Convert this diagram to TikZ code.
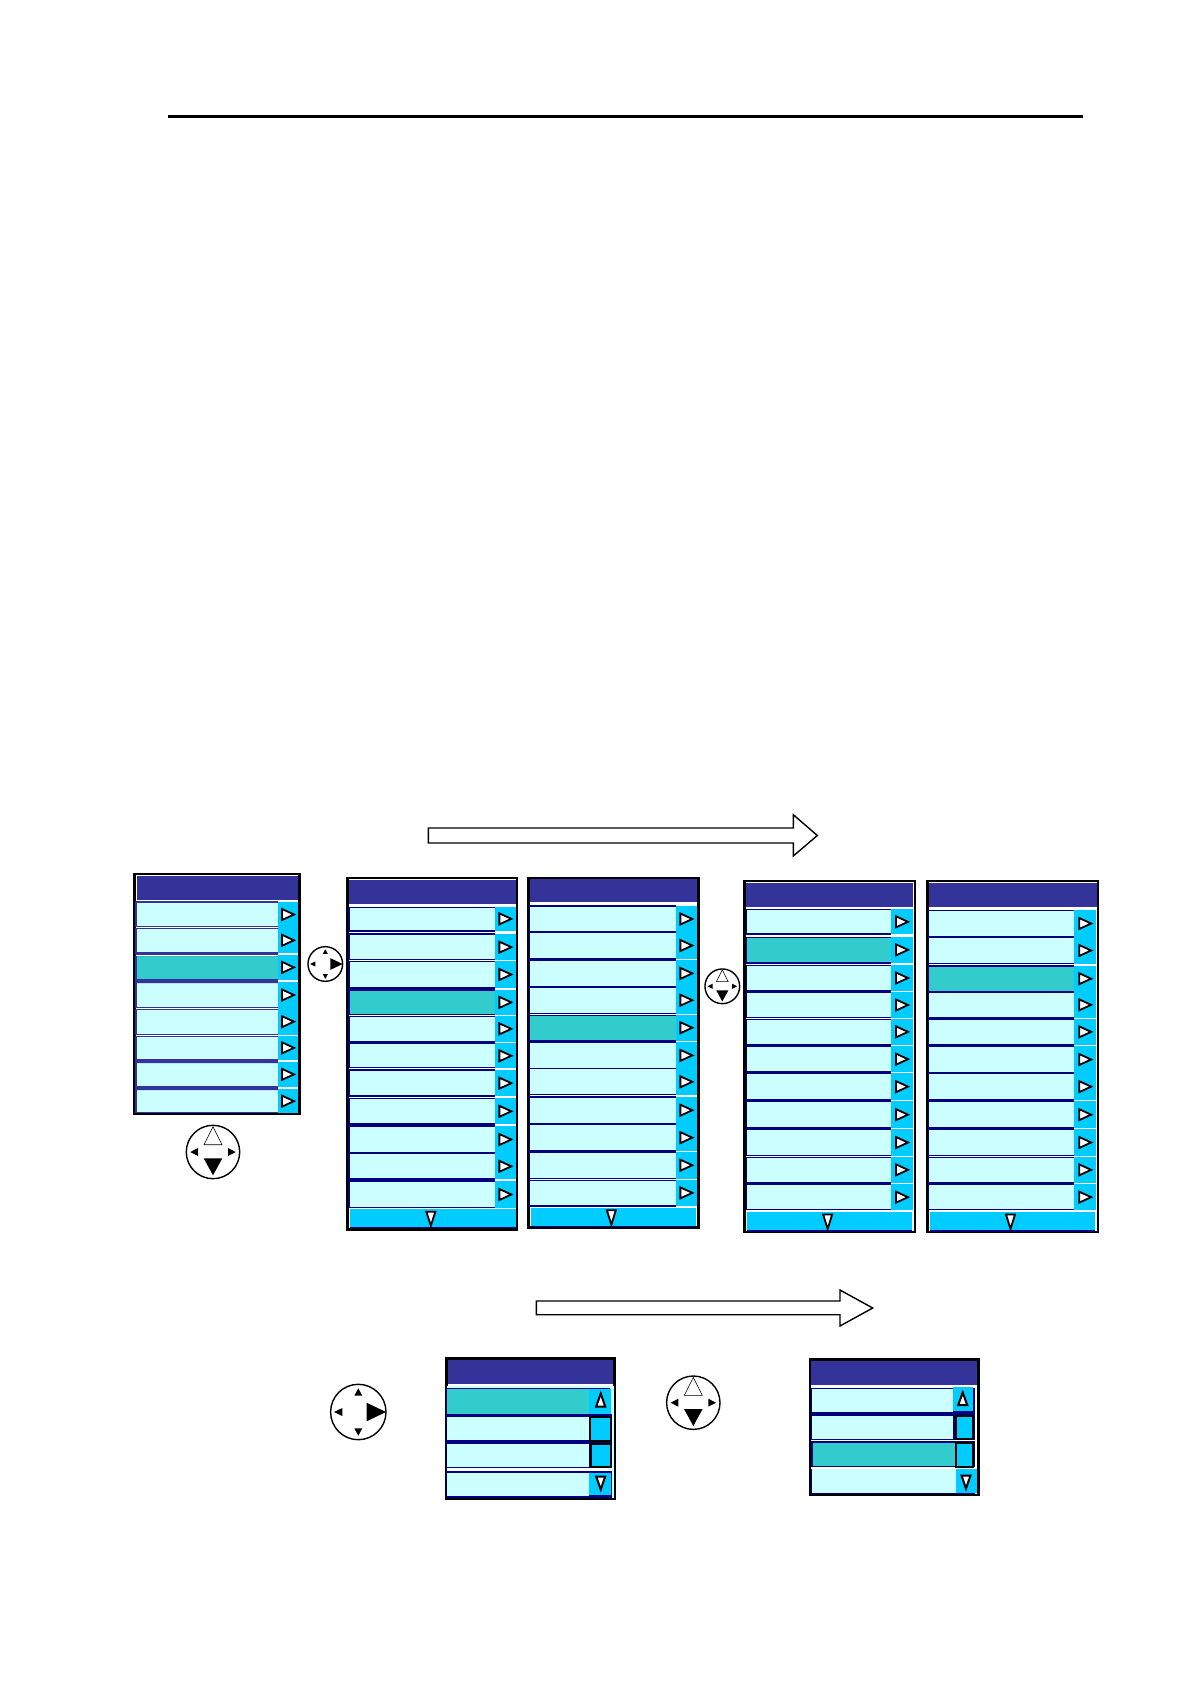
\documentclass[tikz,border=0pt]{standalone}
\definecolor{titlec}{HTML}{333399}
\definecolor{navyc}{HTML}{000080}
\definecolor{rowc}{HTML}{CCFFFF}
\definecolor{selc}{HTML}{33CCCC}
\definecolor{btnc}{HTML}{00CCFF}
\newcommand{\ux}{0.5pt}
\tikzset{
  panelbox/.style={draw=black,fill=white,line width=2.4*\ux},
  titlebox/.style={fill=titlec,draw=none},
  blockarrow/.style={draw=black,fill=white,line width=1.4*\ux,line join=miter},
  tri/.style={draw=black,fill=white,line width=1.8*\ux,line join=miter},
  ring/.style={draw=black,fill=white,line width=1.4*\ux},
  hollow/.style={draw=black,fill=white,line width=0.6*\ux},
  solid tri/.style={fill=black,draw=none},
  barfill/.style={fill=btnc,draw=none}
}
% \panelrows{x0}{xb}{x1}{left width}{line colour}{list}
\newcommand{\panelrows}[6]{%
  \foreach \ta/\bo/\tw/\bw/\fc in {#6}{%
    \pgfmathsetmacro{\ymid}{(\ta+\bo)/2}%
    \pgfmathsetmacro{\xbc}{(#2+#3)/2}%
    \fill[\fc] (#1,\ta) rectangle (#2,\bo);
    \fill[btnc] (#2,\ta-1) rectangle (#3,\bo+1);
    \fill[#5] (#1-1,\ta-\tw) rectangle (#2,\ta);
    \fill[#5] (#1-1,\bo) rectangle (#2,\bo+\bw);
    \fill[#5] (#1-#4,\ta-\tw) rectangle (#1,\bo+\bw);
    \draw[tri] (\xbc-6,\ymid-5.5) -- (\xbc+6,\ymid) -- (\xbc-6,\ymid+5.5) -- cycle;
  }%
}
% \downbar{x0}{x1}{top}{bot}
\newcommand{\downbar}[4]{%
  \fill[btnc] (#1,#3) rectangle (#2,#4);
  \fill[navyc] (#1,#4) rectangle (#2,#4+1.5);
  \pgfmathsetmacro{\xm}{(#1+#2)/2-2}%
  \draw[tri] (\xm-4.5,#3+2.5) -- (\xm+4.5,#3+2.5) -- (\xm,#4-1) -- cycle;
}
\newcommand{\joyright}[3]{%
  \begin{scope}[shift={(#1,#2)},scale=#3]
    \draw[ring] (0,0) circle (27.7);
    \fill[solid tri] (8.3,-9.3) -- (27.7,0) -- (8.3,9.3) -- cycle;
    \fill[solid tri] (0,-23.7) -- (4,-16.3) -- (-4,-16.3) -- cycle;
    \fill[solid tri] (0,23.7) -- (4,16.3) -- (-4,16.3) -- cycle;
    \fill[solid tri] (-24.3,0) -- (-16,-4) -- (-16,4) -- cycle;
  \end{scope}}
\newcommand{\joydown}[3]{%
  \begin{scope}[shift={(#1,#2)},scale=#3]
    \draw[ring] (0,0) circle (26.7);
    \draw[hollow] (0,-25.3) -- (9,-7.3) -- (-9,-7.3) -- cycle;
    \fill[solid tri] (-9.3,6.3) -- (9.3,6.3) -- (0,23.3) -- cycle;
    \fill[solid tri] (-22.7,0) -- (-15,-4) -- (-15,4) -- cycle;
    \fill[solid tri] (22.7,0) -- (15,-4) -- (15,4) -- cycle;
  \end{scope}}
\newcommand{\scrollbtn}[4]{% x0 x1 top bot
  \draw[fill=btnc,draw=black,line width=2*\ux] (#1,#3) rectangle (#2,#4);}
\newcommand{\updown}[4]{% cx top bot dir: 1 up, -1 down
  \ifnum#4=1
    \draw[tri,line width=2*\ux] (#1,#2) -- (#1+4.5,#3) -- (#1-4.5,#3) -- cycle;
  \else
    \draw[tri,line width=2*\ux] (#1,#3) -- (#1+4.5,#2) -- (#1-4.5,#2) -- cycle;
  \fi}
\begin{document}
\begin{tikzpicture}[x=0.5pt,y=-0.5pt]
\useasboundingbox (0,0) rectangle (1190,1684);
\fill[white] (0,0) rectangle (1190,1684);
% top rule
\fill[black] (168,114.7) rectangle (1083,118);
% block arrows
\draw[blockarrow] (428.3,828) -- (793.3,828) -- (793.3,814.7) -- (817.3,835.5) -- (793.3,856) -- (793.3,843) -- (428.3,843) -- cycle;
\draw[blockarrow] (536.3,1301) -- (840,1301) -- (840,1290) -- (872.7,1308) -- (840,1326) -- (840,1314.7) -- (536.3,1314.7) -- cycle;
% panel A
\draw[panelbox] (134.5,874) rectangle (299.5,1114);
\fill[titlec] (136.5,876) rectangle (297.7,899.5);
\panelrows{137}{277.7}{298.3}{2}{titlec}{
 903.3/925.7/2/0.8/rowc, 928.3/952.3/0.8/3/rowc, 955.7/979/0/4/selc, 983.3/1006.7/0/0.8/rowc,
 1009.3/1034/0.8/0.8/rowc, 1036.7/1059/0.8/3.5/rowc, 1062.7/1086/0/4/rowc, 1090/1112.3/0/0.8/rowc}
% panel B
\draw[panelbox] (347.5,878) rectangle (517,1229.5);
\fill[titlec] (349.3,880) rectangle (515.7,904.3);
\panelrows{350}{495}{515.7}{2}{navyc}{
 907.7/930/1/2/rowc, 935/959.3/2/1/rowc, 962.3/986.7/1/2/rowc, 990.7/1014/2/1/selc,
 1016.7/1041/1/2/rowc, 1044.3/1067.3/1/1/rowc, 1071/1095.3/2/2/rowc, 1099.3/1123.3/1/2/rowc,
 1127.3/1151.7/2/1/rowc, 1154.3/1178.3/1/2/rowc, 1182.3/1206.7/2/1/rowc}
\downbar{350}{515.7}{1209.3}{1226.7}
% panel C
\draw[panelbox] (528.3,877.7) rectangle (698.3,1227.3);
\fill[titlec] (530,879) rectangle (697.3,902.3);
\panelrows{530.3}{675.7}{697}{1}{navyc}{
 907.3/930.7/2/2/rowc, 933.3/957.7/1/2/rowc, 961/985.7/2/1/rowc, 987.7/1012.7/2/1/rowc,
 1015.7/1039.7/1/2/selc, 1043/1067.7/2/1/rowc, 1069.3/1094.3/1/1/rowc, 1097.7/1122.7/2/1/rowc,
 1125.3/1150/1/2/rowc, 1152.7/1177.7/2/1/rowc, 1180.7/1205/1/2/rowc}
\downbar{530.7}{696}{1207.7}{1225.7}
% panel D
\draw[panelbox] (744.3,881) rectangle (914.7,1232);
\fill[titlec] (745.7,882.7) rectangle (913.3,907.3);
\panelrows{746.7}{891.3}{912.7}{1}{navyc}{
 910.3/933.3/1/2/rowc, 937.7/962/1/2/selc, 966/990/1/2/rowc, 993.3/1016.7/1/1/rowc,
 1019.7/1044/1/2/rowc, 1047.3/1071/1/1/rowc, 1074.3/1099/2/2/rowc, 1102.3/1127/1/2/rowc,
 1130/1155/2/1/rowc, 1157.7/1182/1/2/rowc, 1185/1209.3/2/1/rowc}
\downbar{747}{912.3}{1212}{1230}
% panel E
\draw[panelbox] (927.3,881) rectangle (1097.7,1232);
\fill[titlec] (928.7,882.7) rectangle (1096.7,907.3);
\panelrows{929.3}{1074.3}{1096}{1}{navyc}{
 911.3/935.7/1/1/rowc, 938.3/962.7/2/1/rowc, 966.7/990.7/2/1/selc, 992.7/1017/1/2/rowc,
 1019.7/1044/1/2/rowc, 1047.3/1071.7/1/3/rowc, 1074.3/1099/1/2/rowc, 1102.3/1127/1/2/rowc,
 1130/1155/2/1/rowc, 1157.7/1182/1/2/rowc, 1185/1209.3/2/1/rowc}
\downbar{930}{1095}{1212}{1230}
% panel F
\draw[panelbox] (446.3,1358.3) rectangle (614.3,1498.5);
\fill[rowc] (447,1386) rectangle (613.5,1497.5);
\fill[titlec] (448,1360) rectangle (613.3,1384);
\fill[navyc] (446,1387.7) rectangle (610,1416.7);
\fill[selc] (447.3,1389.3) rectangle (589.3,1414);
\fill[navyc] (446,1414) rectangle (612,1470);
\fill[rowc] (447.3,1416.7) rectangle (589.3,1440);
\fill[rowc] (447.3,1444) rectangle (589.3,1467.3);
\fill[white] (447,1467.5) rectangle (612,1470.5);
\fill[navyc] (446,1470.7) rectangle (612,1497.5);
\fill[rowc] (447.3,1472.7) rectangle (589.3,1496);
\fill[btnc] (589.3,1389) rectangle (611.3,1413.5);
\scrollbtn{589.5}{610.5}{1416.7}{1440.5}
\scrollbtn{591}{610.5}{1444}{1467.3}
\fill[btnc] (589.3,1472.7) rectangle (611,1494.5);
\updown{600.7}{1393.5}{1406.5}{1}
\updown{600.7}{1476.5}{1489.5}{0}
% panel G
\draw[panelbox] (809.7,1359.3) rectangle (978.3,1495);
\fill[titlec] (810.7,1361) rectangle (977.3,1385);
\fill[navyc] (811,1387.7) rectangle (975,1494);
\fill[rowc] (811.7,1388.7) rectangle (952.7,1412);
\fill[rowc] (811.7,1416) rectangle (952.7,1439.3);
\fill[white] (811,1439.6) rectangle (975,1441);
\fill[selc] (812.7,1442.7) rectangle (955.7,1466);
\fill[white] (811,1467.3) rectangle (975,1468.6);
\fill[rowc] (811.7,1469.3) rectangle (955.7,1493.3);
\fill[btnc] (952.7,1386.7) rectangle (973.3,1410.7);
\scrollbtn{955.7}{973.3}{1416}{1439.3}
\scrollbtn{955.7}{972.5}{1442.5}{1466.5}
\fill[btnc] (955.7,1469.3) rectangle (977.3,1493.3);
\updown{962.7}{1392.5}{1405}{1}
\updown{966}{1475.5}{1488.5}{0}
% joysticks
\joyright{325.3}{964}{0.625}
\joydown{213}{1152}{1}
\joydown{722.3}{986.3}{0.65}
\joyright{358.3}{1412}{1}
\joydown{693.3}{1402.7}{1}
\end{tikzpicture}
\end{document}
